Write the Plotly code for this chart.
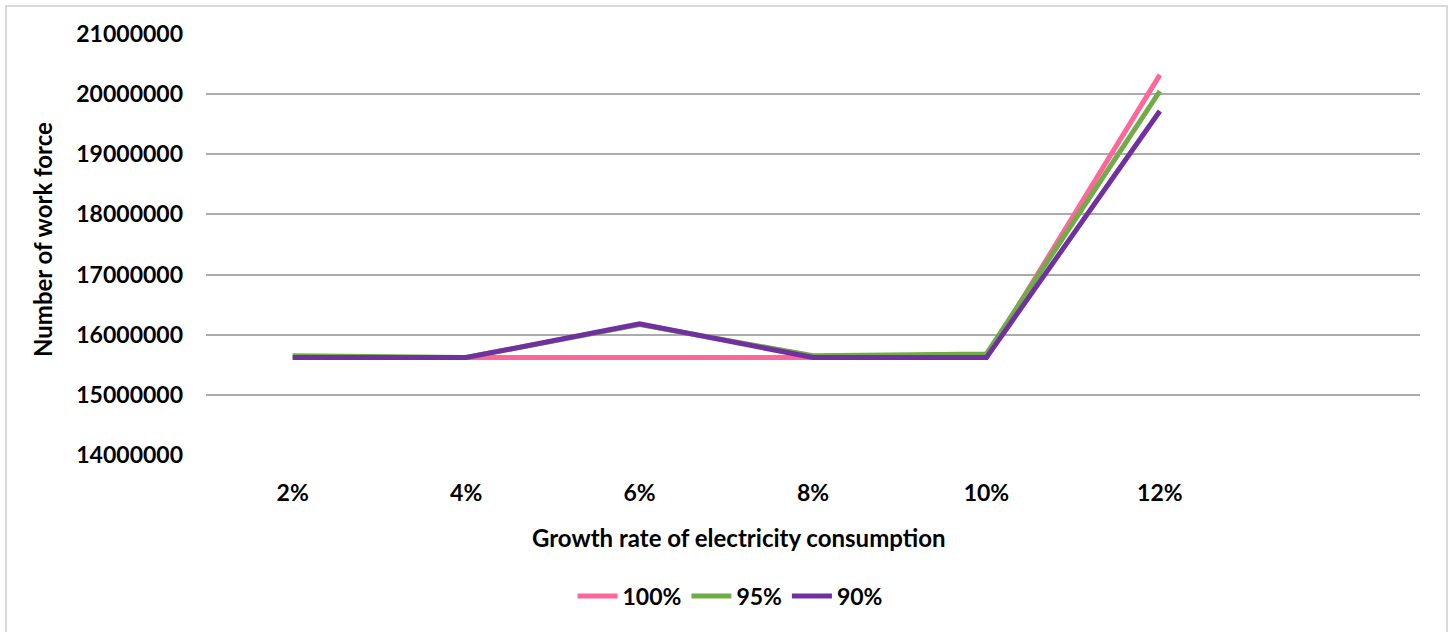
import plotly.graph_objects as go

categories = ["2%", "4%", "6%", "8%", "10%", "12%"]
series_names = ["100%", "95%", "90%"]
values_100 = [15620000, 15620000, 15620000, 15620000, 15620000, 20320000]
values_95 = [15650000, 15620000, 16170000, 15650000, 15680000, 20050000]
values_90 = [15620000, 15620000, 16180000, 15620000, 15620000, 19720000]
colors = ["#FF6699", "#70AD47", "#7030A0"]
y_ticks = [14000000, 15000000, 16000000, 17000000, 18000000, 19000000, 20000000, 21000000]

W, H = 1453, 632
ML, MR, MT, MB = 206, 33, 34, 177
FONT = "Lato"
TICK_SIZE = 23
TITLE_SIZE = 24

fig = go.Figure()
for name, vals, col in zip(series_names, [values_100, values_95, values_90], colors):
    fig.add_trace(go.Scatter(
        x=categories, y=vals, name=name, mode="lines",
        line=dict(color=col, width=5, shape="linear"),
    ))

pw = W - ML - MR
ph = H - MT - MB

def px_x(px):
    return (px - ML) / pw

def px_y(py):
    return (H - MB - py) / ph

fig.update_layout(
    width=W, height=H,
    margin=dict(l=ML, r=MR, t=MT, b=MB),
    paper_bgcolor="white", plot_bgcolor="white",
    font=dict(family=FONT, size=TICK_SIZE, color="#000000"),
    showlegend=True,
    legend=dict(
        orientation="h", x=px_x(730), y=px_y(596), xanchor="center", yanchor="middle",
        font=dict(family=FONT, size=TICK_SIZE, color="#000000", weight="bold"),
        itemwidth=40, tracegroupgap=0,
    ),
    xaxis=dict(
        type="category", categoryorder="array", categoryarray=categories,
        range=[-0.5, 6.5], showgrid=False, zeroline=False, showline=False,
        ticks="", ticklabelstandoff=22,
        tickfont=dict(family=FONT, size=TICK_SIZE, weight="bold", color="#000000"),
        fixedrange=True,
    ),
    yaxis=dict(
        range=[14000000, 21000000], tickvals=y_ticks,
        ticktext=[str(v) for v in y_ticks],
        showgrid=True, gridcolor="#ABABAB", gridwidth=1.5,
        zeroline=False, showline=False, ticks="", ticklabelstandoff=22,
        tickfont=dict(family=FONT, size=TICK_SIZE, weight="bold", color="#000000"),
        fixedrange=True,
    ),
    annotations=[
        dict(text="<b>Growth rate of electricity consumption</b>", xref="paper", yref="paper",
             x=px_x(738), y=px_y(537), xanchor="center", yanchor="middle",
             showarrow=False, font=dict(family=FONT, size=TITLE_SIZE, color="#000000")),
        dict(text="<b>Number of work force</b>", xref="paper", yref="paper",
             x=px_x(43), y=px_y(240), xanchor="center", yanchor="middle", textangle=-90,
             showarrow=False, font=dict(family=FONT, size=TITLE_SIZE, color="#000000")),
    ],
    shapes=[
        dict(type="rect", xref="paper", yref="paper",
             x0=px_x(6), x1=px_x(1447), y0=px_y(640), y1=px_y(6),
             line=dict(color="#D9D9D9", width=2), fillcolor="rgba(0,0,0,0)", layer="below"),
    ],
)

fig.write_html("out.html", config={"displayModeBar": False})
